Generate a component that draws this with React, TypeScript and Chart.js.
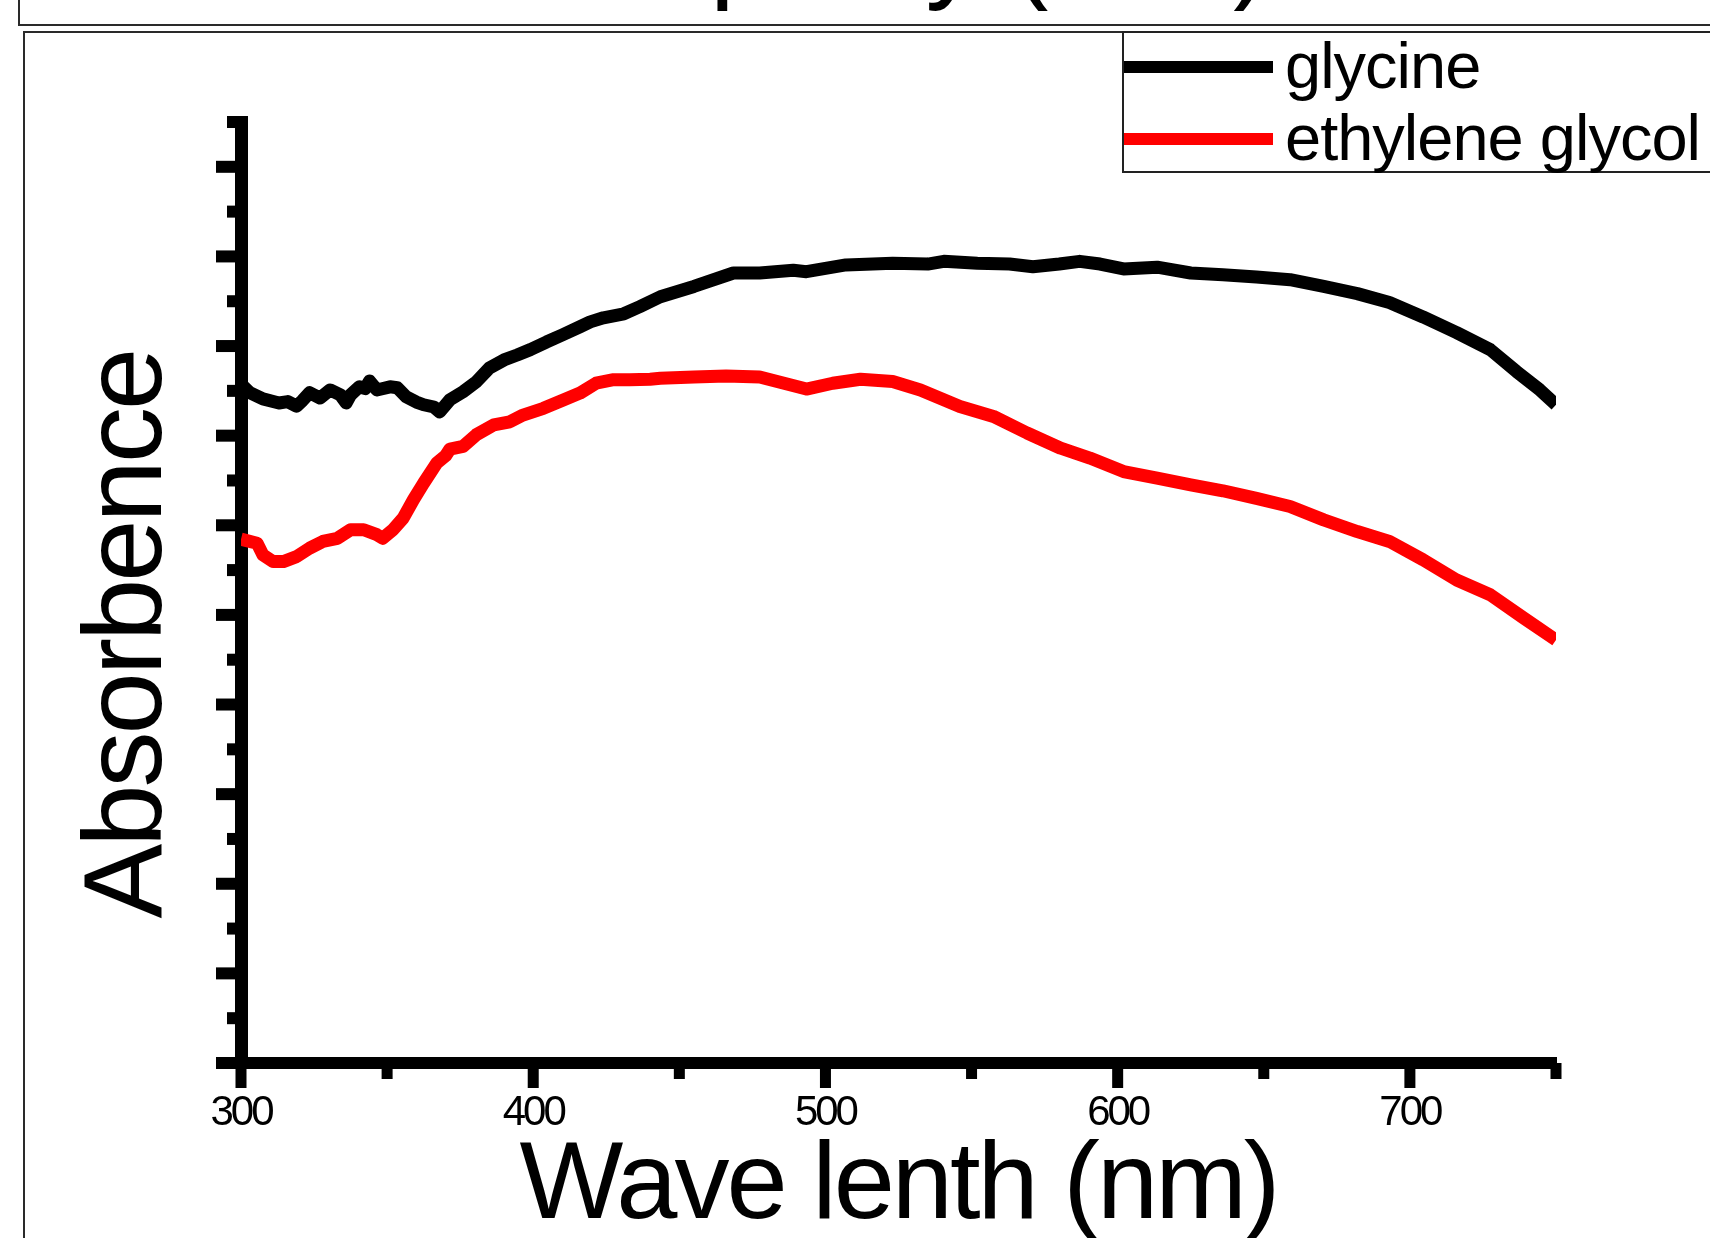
import { useEffect, useRef } from 'react';
import { Chart, registerables } from 'chart.js';

Chart.register(...registerables);

const pageTitle = 'Relative purity (a.u.)';
const xAxisTitle = 'Wave lenth (nm)';
const yAxisTitle = 'Absorbence';
const seriesLabels = ['glycine', 'ethylene glycol'];
const seriesColors = ['#000000', '#ff0000'];

const glycineWavelength = [
  300, 303, 307.5, 313, 316, 319, 321, 323.5, 327, 330.5, 334, 336, 337.5, 340.5, 342.5, 344, 346.5,
  351, 353.5, 356.5, 360, 362.5, 366, 368, 371.5, 376, 380.5, 385, 390, 394.5, 399, 404.5, 410, 416,
  419.5, 424, 431, 436.5, 443.5, 455, 468.5, 477.5, 489, 493.5, 507, 523, 535, 540.5, 552, 563, 571,
  580, 587, 594, 602, 613.5, 625, 636, 647.5, 659, 670.5, 682, 693, 704.5, 716, 727.5, 736.5, 744.5, 750,
];
const glycineAbsorbance = [
  1.515, 1.496, 1.482, 1.473, 1.476, 1.466, 1.478, 1.496, 1.484, 1.502, 1.491, 1.473, 1.491, 1.509, 1.505, 1.522, 1.502,
  1.509, 1.507, 1.487, 1.475, 1.469, 1.464, 1.453, 1.48, 1.498, 1.52, 1.551, 1.569, 1.58, 1.592, 1.609, 1.625, 1.643,
  1.654, 1.663, 1.672, 1.688, 1.71, 1.733, 1.763, 1.763, 1.769, 1.766, 1.781, 1.785, 1.783, 1.789, 1.785, 1.783, 1.777,
  1.783, 1.789, 1.783, 1.772, 1.776, 1.763, 1.759, 1.754, 1.748, 1.733, 1.717, 1.697, 1.665, 1.63, 1.592, 1.543, 1.502, 1.469,
];

const glycolWavelength = [
  300, 305.5, 307.5, 311, 314.5, 319, 323.5, 328, 333, 337.5, 342, 346.5, 348.5, 352, 355.5, 359, 362.5,
  367, 370, 371.5, 376, 380.5, 386.5, 392, 396.5, 403.5, 410.5, 416, 421.5, 427.5, 433, 440, 443.5, 455,
  466, 477.5, 483.5, 493.5, 502.5, 512, 523, 532.5, 546, 557.5, 569, 580.5, 590.5, 602, 613.5, 625, 636,
  647.5, 659, 670.5, 682, 693, 704.5, 716, 727.5, 739, 750,
];
const glycolAbsorbance = [
  1.169, 1.16, 1.134, 1.119, 1.119, 1.13, 1.149, 1.164, 1.171, 1.19, 1.19, 1.179, 1.171, 1.19, 1.216, 1.257, 1.294,
  1.339, 1.355, 1.37, 1.376, 1.402, 1.424, 1.431, 1.446, 1.461, 1.48, 1.495, 1.517, 1.525, 1.525, 1.526, 1.528, 1.531,
  1.533, 1.531, 1.521, 1.504, 1.517, 1.526, 1.521, 1.502, 1.465, 1.443, 1.406, 1.372, 1.35, 1.32, 1.305, 1.29, 1.277,
  1.26, 1.242, 1.212, 1.186, 1.164, 1.123, 1.078, 1.045, 0.993, 0.944,
];

const xMin = 300;
const xMax = 750;
const xMajorTicks = [300, 400, 500, 600, 700];
const xMinorTicks = [350, 450, 550, 650, 750];
const yMin = 0;
const yMax = 2.1;
const yMinorStep = 0.1;

const FONT = "'Liberation Sans', Arial, Helvetica, sans-serif";

const textSpacingPlugin = {
  id: 'textSpacing',
  beforeDraw(chart: any) {
    chart.ctx.letterSpacing = '-3px';
  },
};

const axisTicksPlugin = {
  id: 'axisTicks',
  beforeDatasetsDraw(chart: any) {
    const { ctx, chartArea, scales } = chart;
    const xs = scales.x;
    const ys = scales.y;
    ctx.save();
    ctx.fillStyle = '#000';
    const n = Math.round((yMax - yMin) / yMinorStep);
    for (let i = 0; i <= n; i++) {
      const py = ys.getPixelForValue(yMin + i * yMinorStep);
      const len = i % 2 === 0 ? 25 : 14;
      ctx.fillRect(chartArea.left - len, py - 6, len, 12);
    }
    xMajorTicks.forEach((v) => {
      const px = xs.getPixelForValue(v);
      ctx.fillRect(px - 5.5, chartArea.bottom, 11, 25);
    });
    xMinorTicks.forEach((v) => {
      const px = xs.getPixelForValue(v);
      ctx.fillRect(px - 5.5, chartArea.bottom, 11, 16);
    });
    ctx.restore();
  },
};

const boxLegendPlugin = {
  id: 'boxLegend',
  afterDraw(chart: any) {
    const { ctx } = chart;
    ctx.save();
    ctx.letterSpacing = '-1px';
    ctx.strokeStyle = '#222';
    ctx.lineWidth = 2;
    ctx.strokeRect(1123, 32, 700, 140);
    chart.data.datasets.forEach((ds: any, i: number) => {
      const cy = 67 + i * 72;
      ctx.fillStyle = ds.borderColor;
      ctx.fillRect(1124, cy - 6, 149, 12);
      ctx.fillStyle = '#000';
      ctx.font = `65px ${FONT}`;
      ctx.textBaseline = 'alphabetic';
      ctx.textAlign = 'left';
      ctx.fillText(ds.label, 1285, cy + 21);
    });
    ctx.restore();
  },
};

export default function App() {
  const canvasRef = useRef<HTMLCanvasElement | null>(null);

  useEffect(() => {
    if (!canvasRef.current) return;
    const chart = new Chart(canvasRef.current, {
      type: 'line',
      data: {
        datasets: [
          {
            label: seriesLabels[0],
            data: glycineWavelength.map((x, i) => ({ x, y: glycineAbsorbance[i] })),
            borderColor: seriesColors[0],
            backgroundColor: seriesColors[0],
            borderWidth: 13,
            pointRadius: 0,
            tension: 0,
            fill: false,
            borderJoinStyle: 'round',
          },
          {
            label: seriesLabels[1],
            data: glycolWavelength.map((x, i) => ({ x, y: glycolAbsorbance[i] })),
            borderColor: seriesColors[1],
            backgroundColor: seriesColors[1],
            borderWidth: 13,
            pointRadius: 0,
            tension: 0,
            fill: false,
            borderJoinStyle: 'round',
          },
        ],
      },
      options: {
        animation: false,
        responsive: false,
        devicePixelRatio: 1,
        layout: { padding: { left: 0, top: 122, right: 154, bottom: 0 } },
        plugins: {
          legend: { display: false },
          title: { display: false },
          tooltip: { enabled: false },
        },
        scales: {
          x: {
            type: 'linear',
            min: xMin,
            max: xMax,
            afterFit: (s: any) => {
              s.height = 175;
            },
            afterBuildTicks: (s: any) => {
              s.ticks = xMajorTicks.map((v) => ({ value: v }));
            },
            grid: { display: false, drawTicks: false },
            border: { display: true, width: 12, color: '#000' },
            ticks: {
              color: '#000',
              font: { family: FONT, size: 42 },
              padding: 25,
              maxRotation: 0,
              autoSkip: false,
            },
            title: {
              display: true,
              text: xAxisTitle,
              color: '#000',
              font: { family: FONT, size: 110, lineHeight: 1 },
              padding: { top: 0, bottom: -5 },
            },
          },
          y: {
            type: 'linear',
            min: yMin,
            max: yMax,
            afterFit: (s: any) => {
              s.width = 241;
            },
            grid: { display: false, drawTicks: false },
            border: { display: true, width: 13, color: '#000' },
            ticks: { display: false },
            title: {
              display: true,
              text: yAxisTitle + '   ',
              color: '#000',
              font: { family: FONT, size: 112, lineHeight: 1 },
              padding: { top: 74, bottom: 0 },
            },
          },
        },
      } as any,
      plugins: [textSpacingPlugin, axisTicksPlugin, boxLegendPlugin],
    });
    return () => chart.destroy();
  }, []);

  return (
    <div
      style={{
        position: 'absolute',
        left: 0,
        top: 0,
        width: 1710,
        height: 1238,
        overflow: 'hidden',
        background: '#fff',
      }}
    >
      <div
        style={{
          position: 'absolute',
          left: 18,
          top: -10,
          width: 1800,
          height: 36,
          border: '2px solid #2a2a2a',
          boxSizing: 'border-box',
        }}
      />
      <div
        style={{
          position: 'absolute',
          left: 279,
          top: -116,
          fontFamily: FONT,
          fontSize: 120,
          lineHeight: '120px',
          whiteSpace: 'nowrap',
          transform: 'scaleX(0.923)',
          transformOrigin: 'left top',
          color: '#000',
        }}
      >
        {pageTitle}
      </div>
      <div
        style={{
          position: 'absolute',
          left: 23,
          top: 31,
          width: 1800,
          height: 1300,
          border: '2px solid #2a2a2a',
          boxSizing: 'border-box',
        }}
      />
      <canvas
        ref={canvasRef}
        width={1710}
        height={1238}
        style={{ position: 'absolute', left: 0, top: 0, width: 1710, height: 1238 }}
      />
    </div>
  );
}
